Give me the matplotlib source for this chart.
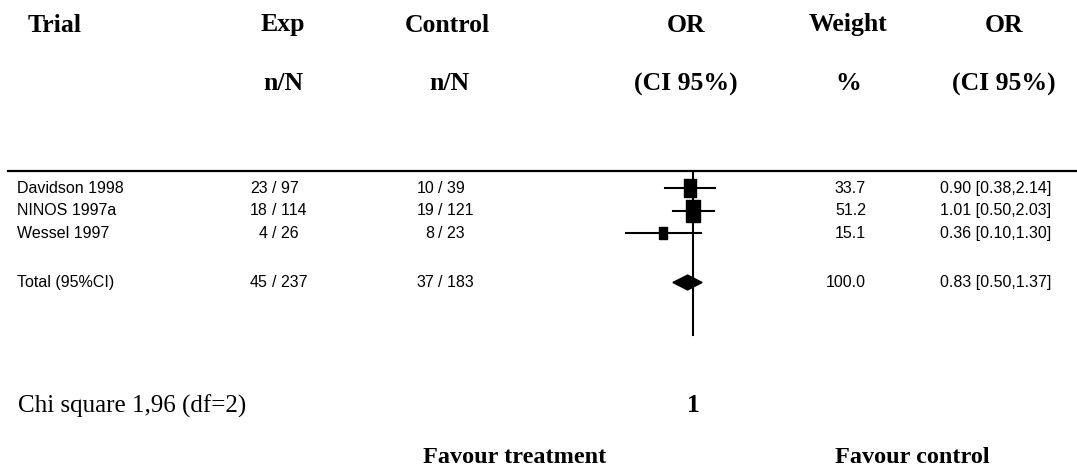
import numpy as np
import matplotlib.pyplot as plt

# data
trials = ['Davidson 1998', 'NINOS 1997a', 'Wessel 1997']
exp_n = [23, 18, 4]
exp_N = [97, 114, 26]
ctl_n = [10, 19, 8]
ctl_N = [39, 121, 23]
weights = [33.7, 51.2, 15.1]
or_est = [0.90, 1.01, 0.36]
or_lo = [0.38, 0.50, 0.10]
or_hi = [2.14, 2.03, 1.30]

total_label = 'Total (95%CI)'
total_exp = (45, 237)
total_ctl = (37, 183)
total_weight = 100.0
total_or = (0.83, 0.50, 1.37)

chi2 = '1,96'
df = 2

body_font = ['Liberation Sans', 'DejaVu Sans']
serif = ['Liberation Serif', 'DejaVu Serif']

W, H = 1077, 473
fig = plt.figure(figsize=(W / 100, H / 100), dpi=100)
ax = fig.add_axes([0, 0, 1, 1])
ax.set_xlim(0, W)
ax.set_ylim(H, 0)
ax.axis('off')

row0, step = 188, 22.5
total_row = 4.2


def row_px(r):
    return row0 + step * r


# headers
hdr = dict(family=serif, fontweight='bold', fontsize=18.5, va='center')
ax.text(28, 25, 'Trial', ha='left', **hdr)
ax.text(283, 25, 'Exp', ha='center', **hdr)
ax.text(447, 25, 'Control', ha='center', **hdr)
ax.text(686, 25, 'OR', ha='center', **hdr)
ax.text(848, 25, 'Weight', ha='center', **hdr)
ax.text(1004, 25, 'OR', ha='center', **hdr)
ax.text(283, 84, 'n/N', ha='center', **hdr)
ax.text(449, 84, 'n/N', ha='center', **hdr)
ax.text(686, 84, '(CI 95%)', ha='center', **hdr)
ax.text(848, 84, '%', ha='center', **hdr)
ax.text(1004, 84, '(CI 95%)', ha='center', **hdr)

ax.plot([8, W], [171, 171], color='black', lw=1.6)

# table body
body = dict(family=body_font, fontsize=11.5, va='center')
rows = list(range(len(trials))) + [total_row]
names_col = trials + [total_label]
en = exp_n + [total_exp[0]]
eN = exp_N + [total_exp[1]]
cn = ctl_n + [total_ctl[0]]
cN = ctl_N + [total_ctl[1]]
wts = weights + [total_weight]
est = or_est + [total_or[0]]
lo = or_lo + [total_or[1]]
hi = or_hi + [total_or[2]]

for r, nm, a, b, c, d, w, e, l, h in zip(rows, names_col, en, eN, cn, cN, wts, est, lo, hi):
    y = row_px(r)
    ax.text(17, y, nm, ha='left', **body)
    ax.text(268, y, f'{a}', ha='right', **body)
    ax.text(272, y, f'/ {b}', ha='left', **body)
    ax.text(434, y, f'{c}', ha='right', **body)
    ax.text(438, y, f'/ {d}', ha='left', **body)
    ax.text(866, y, f'{w:.1f}', ha='right', **body)
    ax.text(940, y, f'{e:.2f} [{l:.2f},{h:.2f}]', ha='left', **body)

# footer
ax.text(18, 406, f'Chi square {chi2} (df={df})', family=serif, fontsize=18,
        ha='left', va='center')
ax.text(693, 405, '1', family=serif, fontweight='bold', fontsize=18.5,
        ha='center', va='center')
ax.text(515, 457, 'Favour treatment', family=serif, fontweight='bold',
        fontsize=17.5, ha='center', va='center')
ax.text(912, 457, 'Favour control', family=serif, fontweight='bold',
        fontsize=17.5, ha='center', va='center')

# forest plot on a log scale, 1.0 at x = 693 px
x1, k = 693, 29.0
xr = 20.0
left = (x1 - k * np.log(xr)) / W
width = 2 * k * np.log(xr) / W
top_px, bot_px = 160, 345
fx = fig.add_axes([left, (H - bot_px) / H, width, (bot_px - top_px) / H])
fx.set_xscale('log')
fx.set_xlim(1 / xr, xr)
fx.set_ylim((bot_px - row0) / step, (top_px - row0) / step)
fx.axis('off')
fx.patch.set_alpha(0)

fx.plot([1, 1], [(171 - row0) / step, (335 - row0) / step], color='black', lw=1.5)

box = [(-1, -1.47), (1, -1.47), (1, 1.47), (-1, 1.47), (-1, -1.47)]
for i in range(len(trials)):
    fx.plot([or_lo[i], or_hi[i]], [i, i], color='black', lw=1.5)
    fx.plot(or_est[i], i, marker=box, color='black', ms=2.21 * np.sqrt(weights[i]),
            mec='black')

e, l, h = total_or
dh = 0.33
fx.fill([l, e, h, e], [total_row, total_row - dh, total_row, total_row + dh],
        color='black')

fig.savefig('out.png', dpi=100)
